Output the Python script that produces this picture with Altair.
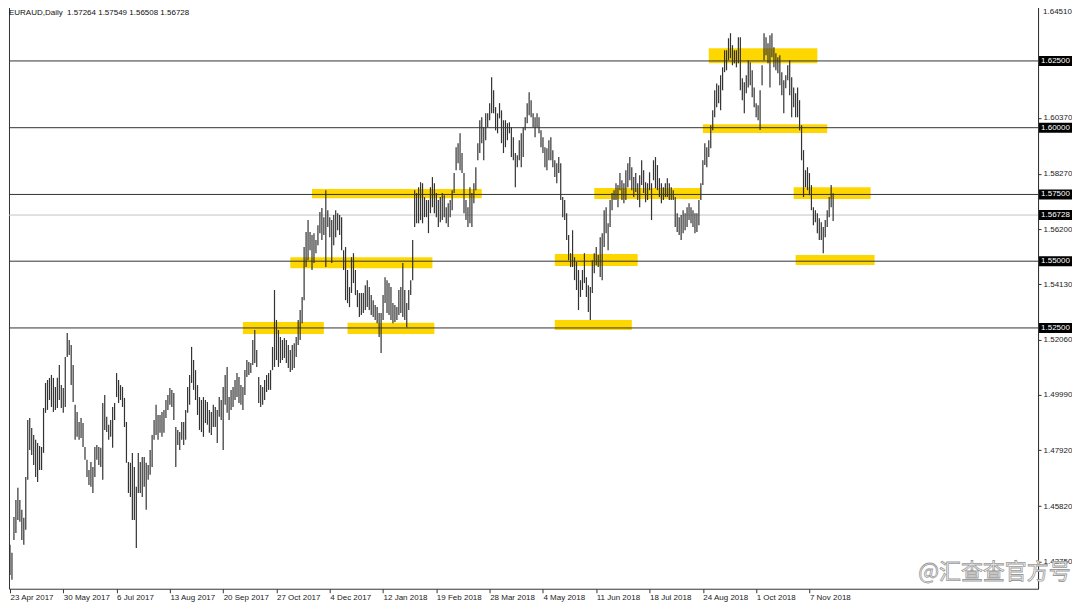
import altair as alt
import pandas as pd

# ---- daily bars (EURAUD) ----
highs = [
    1.4438, 1.4408, 1.4542, 1.4606, 1.4651, 1.4606, 1.4569, 1.4539, 1.4692, 1.4905,
    1.4913, 1.4875, 1.4849, 1.4831, 1.4819, 1.4808, 1.4804, 1.4950, 1.5044, 1.5055,
    1.5063, 1.5074, 1.5063, 1.5029, 1.5063, 1.5111, 1.5036, 1.5025, 1.5141, 1.5231,
    1.5205, 1.5186, 1.5111, 1.4962, 1.4935, 1.4898, 1.4913, 1.4894, 1.4804, 1.4756,
    1.4718, 1.4748, 1.4729, 1.4804, 1.4812, 1.4804, 1.4801, 1.4969, 1.4999, 1.4917,
    1.4887, 1.4905, 1.4954, 1.4969, 1.5081, 1.5055, 1.5036, 1.5029, 1.4988, 1.4898,
    1.4748, 1.4745, 1.4782, 1.4729, 1.4655, 1.4782, 1.4748, 1.4767, 1.4767, 1.4745,
    1.4737, 1.4793, 1.4849, 1.4905, 1.4962, 1.4924, 1.4924, 1.4935, 1.4943, 1.4980,
    1.4999, 1.5025, 1.5018, 1.5006, 1.4879, 1.4868, 1.4860, 1.4898, 1.4898, 1.4943,
    1.5029, 1.5074, 1.5179, 1.5130, 1.5092, 1.5036, 1.4991, 1.4980, 1.4991, 1.4980,
    1.4973, 1.4943, 1.4935, 1.4962, 1.4954, 1.4943, 1.4991, 1.4980, 1.5029, 1.5074,
    1.5104, 1.4991, 1.5018, 1.5029, 1.5055, 1.5081, 1.5066, 1.5036, 1.5029, 1.5092,
    1.5130, 1.5122, 1.5119, 1.5205, 1.5242, 1.5167, 1.5066, 1.5036, 1.5029, 1.5055,
    1.5074, 1.5081, 1.5092, 1.5179, 1.5392, 1.5280, 1.5242, 1.5216, 1.5205, 1.5212,
    1.5205, 1.5186, 1.5167, 1.5186, 1.5193, 1.5216, 1.5280, 1.5317, 1.5366, 1.5553,
    1.5609, 1.5654, 1.5609, 1.5598, 1.5605, 1.5579, 1.5635, 1.5684, 1.5699, 1.5665,
    1.5766, 1.5691, 1.5665, 1.5654, 1.5673, 1.5691, 1.5680, 1.5673, 1.5665, 1.5541,
    1.5553, 1.5467, 1.5403, 1.5515, 1.5530, 1.5467, 1.5392, 1.5381, 1.5381, 1.5381,
    1.5410, 1.5429, 1.5403, 1.5373, 1.5354, 1.5336, 1.5328, 1.5306, 1.5306, 1.5373,
    1.5440, 1.5429, 1.5418, 1.5403, 1.5343, 1.5336, 1.5328, 1.5392, 1.5403, 1.5493,
    1.5392, 1.5343, 1.5392, 1.5429, 1.5579, 1.5766, 1.5755, 1.5777, 1.5796, 1.5792,
    1.5740, 1.5729, 1.5729, 1.5777, 1.5815, 1.5792, 1.5755, 1.5729, 1.5740, 1.5755,
    1.5747, 1.5702, 1.5717, 1.5729, 1.5766, 1.5830, 1.5927, 1.5942, 1.5979, 1.5905,
    1.5830, 1.5729, 1.5702, 1.5777, 1.5755, 1.5792, 1.5852, 1.5942, 1.6028, 1.6039,
    1.6002, 1.6054, 1.6054, 1.6092, 1.6189, 1.6140, 1.6077, 1.6054, 1.6092, 1.6065,
    1.6028, 1.6028, 1.6017, 1.6020, 1.6002, 1.5964, 1.5905, 1.5897, 1.5953, 1.5979,
    1.6002, 1.6039, 1.6092, 1.6133, 1.6103, 1.6054, 1.6039, 1.6054, 1.6039, 1.5990,
    1.5964, 1.5927, 1.5923, 1.5953, 1.5964, 1.5916, 1.5878, 1.5867, 1.5890, 1.5867,
    1.5740, 1.5729, 1.5680, 1.5598, 1.5530, 1.5616, 1.5515, 1.5497, 1.5467, 1.5429,
    1.5467, 1.5530, 1.5440, 1.5410, 1.5403, 1.5504, 1.5530, 1.5553, 1.5523, 1.5590,
    1.5605, 1.5691, 1.5702, 1.5642, 1.5729, 1.5755, 1.5766, 1.5792, 1.5785, 1.5830,
    1.5803, 1.5792, 1.5841, 1.5867, 1.5890, 1.5852, 1.5815, 1.5830, 1.5792, 1.5822,
    1.5878, 1.5841, 1.5796, 1.5792, 1.5833, 1.5792, 1.5878, 1.5890, 1.5860, 1.5811,
    1.5792, 1.5777, 1.5792, 1.5811, 1.5792, 1.5777, 1.5766, 1.5740, 1.5680, 1.5665,
    1.5673, 1.5691, 1.5680, 1.5702, 1.5717, 1.5702, 1.5691, 1.5680, 1.5680, 1.5729,
    1.5792, 1.5878, 1.5942, 1.5927, 1.5953, 1.6009, 1.6065, 1.6140, 1.6166, 1.6159,
    1.6196, 1.6226, 1.6290, 1.6290, 1.6335, 1.6354, 1.6309, 1.6290, 1.6290, 1.6339,
    1.6339, 1.6185, 1.6170, 1.6196, 1.6253, 1.6245, 1.6215, 1.6151, 1.6092, 1.6084,
    1.6140, 1.6234, 1.6354, 1.6339, 1.6316, 1.6346, 1.6354, 1.6301, 1.6279, 1.6264,
    1.6271, 1.6208, 1.6178, 1.6196, 1.6234, 1.6253, 1.6189, 1.6151, 1.6129, 1.6151,
    1.6103, 1.6009, 1.5916, 1.5841, 1.5852, 1.5830, 1.5785, 1.5702, 1.5691, 1.5680,
    1.5661, 1.5646, 1.5628, 1.5654, 1.5691, 1.5740, 1.5785, 1.57549,
]
lows = [
    1.4325, 1.4307, 1.4456, 1.4482, 1.4531, 1.4524, 1.4456, 1.4438, 1.4494, 1.4681,
    1.4793, 1.4774, 1.4737, 1.4692, 1.4673, 1.4718, 1.4718, 1.4782, 1.4932, 1.4943,
    1.4980, 1.4954, 1.4935, 1.4943, 1.4950, 1.4980, 1.4950, 1.4932, 1.4954, 1.5141,
    1.5149, 1.5036, 1.4973, 1.4831, 1.4842, 1.4831, 1.4838, 1.4804, 1.4756, 1.4692,
    1.4662, 1.4655, 1.4632, 1.4692, 1.4756, 1.4737, 1.4729, 1.4681, 1.4868, 1.4860,
    1.4831, 1.4842, 1.4801, 1.4905, 1.4991, 1.4969, 1.4980, 1.4954, 1.4879, 1.4745,
    1.4632, 1.4617, 1.4531, 1.4531, 1.4426, 1.4632, 1.4632, 1.4617, 1.4655, 1.4569,
    1.4681, 1.4700, 1.4729, 1.4831, 1.4849, 1.4831, 1.4857, 1.4842, 1.4857, 1.4913,
    1.4943, 1.4962, 1.4954, 1.4905, 1.4729, 1.4812, 1.4793, 1.4831, 1.4812, 1.4831,
    1.4932, 1.4962, 1.5044, 1.5018, 1.4980, 1.4924, 1.4868, 1.4860, 1.4842, 1.4894,
    1.4887, 1.4857, 1.4849, 1.4879, 1.4879, 1.4819, 1.4917, 1.4905, 1.4793, 1.4962,
    1.4932, 1.4905, 1.4943, 1.4954, 1.4980, 1.4991, 1.4969, 1.4962, 1.4943, 1.4999,
    1.5066, 1.5074, 1.5081, 1.5111, 1.5119, 1.5104, 1.4969, 1.4954, 1.4962, 1.4980,
    1.5010, 1.5018, 1.5018, 1.5092, 1.5104, 1.5130, 1.5104, 1.5119, 1.5130, 1.5137,
    1.5119, 1.5100, 1.5085, 1.5092, 1.5100, 1.5141, 1.5186, 1.5205, 1.5268, 1.5354,
    1.5478, 1.5504, 1.5541, 1.5467, 1.5493, 1.5530, 1.5560, 1.5605, 1.5579, 1.5598,
    1.5478, 1.5628, 1.5590, 1.5493, 1.5560, 1.5590, 1.5616, 1.5598, 1.5541, 1.5467,
    1.5354, 1.5343, 1.5328, 1.5381, 1.5418, 1.5373, 1.5328, 1.5291, 1.5298, 1.5306,
    1.5317, 1.5328, 1.5317, 1.5298, 1.5291, 1.5280, 1.5268, 1.5216, 1.5156, 1.5280,
    1.5343, 1.5306, 1.5298, 1.5280, 1.5268, 1.5272, 1.5280, 1.5298, 1.5306, 1.5291,
    1.5280, 1.5253, 1.5317, 1.5373, 1.5429, 1.5628, 1.5642, 1.5642, 1.5654, 1.5642,
    1.5665, 1.5665, 1.5605, 1.5680, 1.5702, 1.5680, 1.5665, 1.5628, 1.5646, 1.5654,
    1.5665, 1.5642, 1.5628, 1.5665, 1.5691, 1.5755, 1.5841, 1.5867, 1.5841, 1.5830,
    1.5680, 1.5654, 1.5628, 1.5642, 1.5628, 1.5717, 1.5766, 1.5878, 1.5905, 1.5942,
    1.5878, 1.5953, 1.6002, 1.6028, 1.6054, 1.6054, 1.5990, 1.5979, 1.6035, 1.5942,
    1.5905, 1.5927, 1.5953, 1.5979, 1.5890, 1.5878, 1.5777, 1.5852, 1.5878, 1.5852,
    1.5890, 1.5990, 1.6017, 1.6047, 1.6039, 1.6002, 1.5964, 1.6002, 1.5979, 1.5927,
    1.5905, 1.5852, 1.5841, 1.5878, 1.5878, 1.5852, 1.5815, 1.5792, 1.5830, 1.5729,
    1.5665, 1.5654, 1.5579, 1.5504, 1.5478, 1.5478, 1.5429, 1.5392, 1.5317, 1.5366,
    1.5392, 1.5418, 1.5366, 1.5310, 1.5280, 1.5381, 1.5455, 1.5485, 1.5478, 1.5441,
    1.5429, 1.5553, 1.5605, 1.5541, 1.5628, 1.5691, 1.5729, 1.5729, 1.5702, 1.5766,
    1.5729, 1.5717, 1.5729, 1.5777, 1.5803, 1.5766, 1.5740, 1.5759, 1.5729, 1.5702,
    1.5785, 1.5755, 1.5721, 1.5729, 1.5766, 1.5654, 1.5803, 1.5773, 1.5766, 1.5740,
    1.5717, 1.5729, 1.5740, 1.5740, 1.5729, 1.5729, 1.5729, 1.5628, 1.5609, 1.5598,
    1.5579, 1.5605, 1.5616, 1.5628, 1.5654, 1.5642, 1.5628, 1.5605, 1.5609, 1.5635,
    1.5729, 1.5785, 1.5860, 1.5852, 1.5890, 1.5923, 1.5990, 1.6039, 1.6077, 1.6092,
    1.6065, 1.6140, 1.6208, 1.6215, 1.6253, 1.6260, 1.6234, 1.6241, 1.6226, 1.6241,
    1.6140, 1.6103, 1.6054, 1.6129, 1.6151, 1.6159, 1.6114, 1.6077, 1.6039, 1.6028,
    1.5991, 1.6159, 1.6253, 1.6271, 1.6241, 1.6151, 1.6264, 1.6226, 1.6215, 1.6204,
    1.6159, 1.6122, 1.6054, 1.6148, 1.6178, 1.6122, 1.6039, 1.6077, 1.6039, 1.6039,
    1.5990, 1.5878, 1.5740, 1.5777, 1.5766, 1.5747, 1.5691, 1.5635, 1.5646, 1.5605,
    1.5579, 1.5579, 1.5530, 1.5590, 1.5628, 1.5665, 1.5702, 1.56508,
]

# ---- axes ----
date_labels = ["23 Apr 2017", "30 May 2017", "6 Jul 2017", "13 Aug 2017", "20 Sep 2017",
               "27 Oct 2017", "4 Dec 2017", "12 Jan 2018", "19 Feb 2018", "28 Mar 2018",
               "4 May 2018", "11 Jun 2018", "18 Jul 2018", "24 Aug 2018", "1 Oct 2018",
               "7 Nov 2018"]
bars_per_label = 27
date_label_bars = [k * bars_per_label for k in range(len(date_labels))]
top_price_tick = 1.64510
price_ticks = [1.63460, 1.62410, 1.61390, 1.60370, 1.59320, 1.58270, 1.57250,
               1.56200, 1.55180, 1.54130, 1.53110, 1.52060, 1.51010, 1.49990, 1.48940,
               1.47920, 1.46870, 1.45820, 1.44800, 1.43750, 1.42730]

# ---- horizontal levels ----
level_prices = [1.62500, 1.60000, 1.57500, 1.55000, 1.52500]
bid_price = 1.56728
header = "EURAUD,Daily\u00a0\u00a01.57264 1.57549 1.56508 1.56728"
shift_marker_bar = [417]

# ---- yellow zones (bar index range, price range) ----
zone_start = [153, 142, 118, 171, 276, 276, 296, 354, 351, 397, 398]
zone_end = [239, 214, 159, 215, 318, 315, 350, 409, 414, 436, 438]
zone_low = [1.5736, 1.5474, 1.5227, 1.5227, 1.5482, 1.5242, 1.5733, 1.6241, 1.5980, 1.5733, 1.5486]
zone_high = [1.5770, 1.5515, 1.5272, 1.5269, 1.5527, 1.5280, 1.5774, 1.6298, 1.6013, 1.5777, 1.5523]

bars = pd.DataFrame({"bar": list(range(len(highs))), "high": highs, "low": lows})
zones = pd.DataFrame({"s": zone_start, "e": zone_end, "lo": zone_low, "hi": zone_high})
levels = pd.DataFrame({"p": level_prices})
boxes = pd.DataFrame({"p": level_prices + [bid_price],
                      "t": [f"{v:.5f}" for v in level_prices + [bid_price]]})

W, H = 1030, 586
FONT = "Liberation Sans"
xscale = alt.Scale(domain=[-0.5, 520.8], nice=False, zero=False)
yscale = alt.Scale(domain=[1.42732, 1.6466], nice=False, zero=False)

label_array = "[" + ",".join(f"'{d}'" for d in date_labels) + "]"

xaxis = alt.Axis(values=date_label_bars, labelExpr=f"{label_array}[round(datum.value/{bars_per_label})]",
                 orient="bottom", grid=False, domain=False, tickSize=4, tickColor="#333",
                 labelAlign="left", labelBaseline="top", labelPadding=1,
                 labelFontSize=8, labelFont=FONT, labelColor="#222", title=None,
                 labelOverlap=False, labelFlush=False)
yaxis = alt.Axis(values=price_ticks, format=".5f", orient="right", grid=False,
                 domain=True, domainColor="#333", tickSize=3, tickColor="#333",
                 labelPadding=2, labelFontSize=8, labelFont=FONT, labelColor="#222",
                 title=None, labelOverlap=False, labelFlush=False)

zone_layer = alt.Chart(zones).mark_rect(color="#FFD700").encode(
    x=alt.X("s:Q", scale=xscale, axis=xaxis),
    x2="e:Q",
    y=alt.Y("lo:Q", scale=yscale, axis=yaxis),
    y2="hi:Q",
)
level_layer = alt.Chart(levels).mark_rule(color="#333", strokeWidth=1).encode(
    y=alt.Y("p:Q", scale=yscale)
)
bid_layer = alt.Chart(pd.DataFrame({"p": [bid_price]})).mark_rule(color="#c4c4c4", strokeWidth=1).encode(
    y=alt.Y("p:Q", scale=yscale)
)
bar_layer = alt.Chart(bars).mark_rule(color="#333333", strokeWidth=1.2).encode(
    x=alt.X("bar:Q", scale=xscale),
    y=alt.Y("low:Q", scale=yscale),
    y2="high:Q",
)
top_label = alt.Chart(pd.DataFrame({"p": [top_price_tick]})).mark_text(
    align="left", baseline="middle", fontSize=8, font=FONT, color="#222", dy=5
).encode(x=alt.value(W + 5), y=alt.Y("p:Q", scale=yscale), text=alt.Text("p:Q", format=".5f"))
box_layer = alt.Chart(boxes).mark_tick(orient="horizontal", color="black", thickness=10,
                                       size=33, opacity=1).encode(
    x=alt.value(W + 17.5),
    y=alt.Y("p:Q", scale=yscale),
)
box_text = alt.Chart(boxes).mark_text(color="white", align="left", baseline="middle",
                                      fontSize=8, font=FONT).encode(
    x=alt.value(W + 3),
    y=alt.Y("p:Q", scale=yscale),
    text="t:N",
)
header_layer = alt.Chart(pd.DataFrame({"t": [header]})).mark_text(
    align="left", baseline="middle", fontSize=8, font=FONT, color="#111"
).encode(x=alt.value(0), y=alt.value(10), text="t:N")
marker_layer = alt.Chart(pd.DataFrame({"m": shift_marker_bar})).mark_point(
    shape="triangle-down", filled=True, size=16, color="#aaa", opacity=1
).encode(x=alt.X("m:Q", scale=xscale), y=alt.value(3))
watermark = alt.Chart(pd.DataFrame({"t": ["@汇查查官方号"]})).mark_text(
    align="left", baseline="middle", fontSize=22, font="Noto Sans CJK SC",
    fill="white", stroke="#9a9a9a", strokeWidth=0.8
).encode(x=alt.value(910), y=alt.value(569), text="t:N")

chart = alt.layer(
    zone_layer, level_layer, bid_layer, bar_layer, top_label, box_layer, box_text,
    header_layer, marker_layer, watermark
).properties(
    width=W, height=H,
    padding={"left": 0, "top": -5, "right": 0, "bottom": 0},
    background="white",
).configure_view(stroke="#333", strokeWidth=1)

chart.save("out.html", embed_options={"renderer": "svg", "actions": False})
